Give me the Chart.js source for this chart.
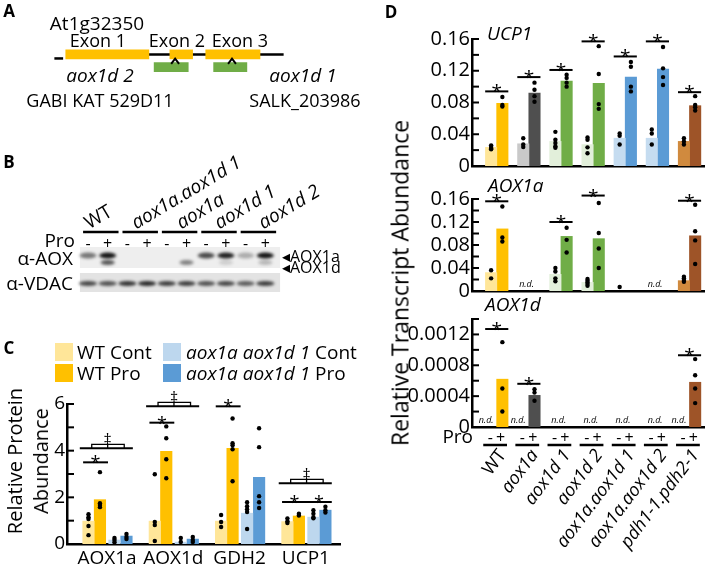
<!DOCTYPE html>
<html>
<head>
<meta charset="utf-8">
<script src="https://cdn.jsdelivr.net/npm/chart.js@4.4.0/dist/chart.umd.min.js"></script>
<style>
  body { margin: 0; width: 708px; height: 570px; overflow: hidden; position: relative; background: #fff; font-family: "Open Sans", sans-serif; }
  canvas { position: absolute; }
  .t { position: absolute; white-space: nowrap; color: #000; line-height: 1; }
  .sw { position: absolute; width: 18px; height: 18px; }
</style>
</head>
<body>
<canvas id="geneMap" width="380" height="120" style="left:0;top:0"></canvas>
<canvas id="blot" width="220" height="75" style="left:70px;top:225px"></canvas>
<canvas id="protein" width="345" height="190" style="left:0;top:380px"></canvas>
<canvas id="ucp1" width="328" height="180" style="left:380px;top:0"></canvas>
<canvas id="aox1a" width="328" height="125" style="left:380px;top:180px"></canvas>
<canvas id="aox1d" width="328" height="265" style="left:380px;top:305px"></canvas>
<script>
// ---- A: gene model (bp along At1g32350)
const geneExons = [[130, 1080], [1320, 1580], [1730, 2350]];
const geneUtr = [0, 100];
const geneEnd = 2620;
const tdnaBoxes = [[1140, 1530], [1820, 2200]];
const tdnaSites = [1380, 2030];

// ---- B: western blot, band intensity per lane (WT -,+, aox1a.aox1d1 -,+, aox1a -,+, aox1d1 -,+, aox1d2 -,+)
const blotGroups = ['WT', 'aox1a.aox1d 1', 'aox1a', 'aox1d 1', 'aox1d 2'];
const bandAOX1a = [0.55, 1.0, 0, 0, 0, 0, 0.75, 0.95, 0.3, 1.0];
const bandAOX1d = [0, 0.7, 0, 0, 0, 0.5, 0, 0.15, 0, 0.25];
const bandVDAC = [0.75, 0.7, 0.85, 0.9, 0.8, 0.8, 0.7, 0.75, 0.65, 0.8];

// ---- C: relative protein abundance
const cTargets = ['AOX1a', 'AOX1d', 'GDH2', 'UCP1'];
const wtCont = [0.98, 0.98, 0.98, 0.96];
const wtPro = [1.9, 3.97, 4.1, 1.2];
const dkoCont = [0.17, 0.08, 1.32, 1.15];
const dkoPro = [0.34, 0.21, 2.86, 1.45];
const wtContPts = [[1.28, 1.15, 1.07, 0.77, 0.38], [2.99, 0.94, 0.81, 0.13], [1.24, 0.94, 0.73], [1.1, 0.98, 0.9]];
const wtProPts = [[3.08, 1.75, 1.67, 1.58], [5.04, 4.53, 3.63, 2.82], [5.38, 4.32, 4.23, 4.06, 2.69], [1.3, 1.22]];
const dkoContPts = [[0.26, 0.17, 0.08], [0.26, 0.09], [1.79, 1.62, 1.49, 1.37, 0.64], [1.45, 1.3, 1.15, 1.1]];
const dkoProPts = [[0.43, 0.3, 0.21], [0.3, 0.17, 0.09], [4.96, 4.15, 2.05, 1.79, 1.54], [1.6, 1.45, 1.35]];
const cStarWT = [3.5, 5.2, 5.9, 1.8];
const cStarDko = [null, null, null, 1.8];
const cDagger = [4.1, 5.9, null, 2.6];

// ---- D: relative transcript abundance
const dGroups = ['WT', 'aox1a', 'aox1d 1', 'aox1d 2', 'aox1a.aox1d 1', 'aox1a.aox1d 2', 'pdh1-1.pdh2-1'];
const dContColors = ['#ffe699', '#c9c9c9', '#e2efda', '#e2efda', '#c5dcf0', '#c5dcf0', '#d08a3e'];
const dProColors = ['#ffc000', '#4f4f4f', '#70ad47', '#70ad47', '#5b9bd5', '#5b9bd5', '#9e5428'];

const ucp1Cont = [0.0235, 0.028, 0.031, 0.027, 0.035, 0.035, 0.031];
const ucp1Pro = [0.079, 0.092, 0.107, 0.104, 0.112, 0.122, 0.076];
const ucp1ContPts = [[0.026, 0.024, 0.022, 0.021], [0.035, 0.027, 0.024], [0.043, 0.033, 0.029, 0.025, 0.023], [0.036, 0.033, 0.0235, 0.016], [0.041, 0.038, 0.027], [0.046, 0.041, 0.027], [0.035, 0.031, 0.027]];
const ucp1ProPts = [[0.087, 0.077, 0.075], [0.105, 0.096, 0.088, 0.081], [0.115, 0.111, 0.105, 0.1], [0.151, 0.116, 0.078, 0.072], [0.131, 0.125, 0.1, 0.094], [0.15, 0.123, 0.112, 0.102], [0.088, 0.077, 0.074, 0.07]];
const ucp1Sig = [0.094, 0.112, 0.121, 0.157, 0.138, 0.157, 0.093];

const aox1aCont = [0.032, null, 0.029, 0.015, null, null, 0.018];
const aox1aPro = [0.108, null, 0.095, 0.091, null, null, 0.096];
const aox1aContPts = [[0.036, 0.022], [], [0.04, 0.034, 0.022, 0.017], [0.021, 0.018, 0.015, 0.012, 0.009], [0.007], [], [0.025, 0.022, 0.019, 0.016]];
const aox1aProPts = [[0.147, 0.093, 0.086], [], [0.11, 0.089, 0.067], [0.153, 0.101, 0.074, 0.04], [], [], [0.15, 0.104, 0.088, 0.047]];
const aox1aSig = [0.156, null, 0.12, 0.166, null, null, 0.157];
const aox1aND = [null, 'both', null, null, null, 'both', null];

const aox1dCont = [null, null, null, null, null, null, null];
const aox1dPro = [0.00062, 0.00041, null, null, null, null, 0.00058];
const aox1dContPts = [[], [], [], [], [], [], []];
const aox1dProPts = [[0.0011, 0.0005, 0.0002], [0.00049, 0.000446, 0.00034], [], [], [], [], [0.00088, 0.00067, 0.0005, 0.00031]];
const aox1dSig = [0.00127, 0.00056, null, null, null, null, 0.00093];
const aox1dND = ['cont', 'cont', 'both', 'both', 'both', 'both', 'cont'];

Chart.defaults.font.family = "'Open Sans', sans-serif";
Chart.defaults.color = '#000';

const base = {
  responsive: false, animation: false, events: [],
  plugins: { legend: { display: false }, tooltip: { enabled: false } }
};

// small inward ticks on the y axis, like the original figure
const innerTicks = {
  id: 'innerTicks',
  afterDraw(chart) {
    const { ctx, chartArea: a, scales: { y } } = chart;
    ctx.save();
    ctx.strokeStyle = '#000';
    ctx.lineWidth = 2;
    y.ticks.forEach(t => {
      const py = y.getPixelForValue(t.value);
      ctx.beginPath(); ctx.moveTo(a.left, py); ctx.lineTo(a.left + 7, py); ctx.stroke();
    });
    ctx.restore();
  }
};

function star(ctx, x1, x2, py, size) {
  ctx.strokeStyle = '#000'; ctx.lineWidth = 2;
  ctx.beginPath(); ctx.moveTo(x1, py); ctx.lineTo(x2, py); ctx.stroke();
  ctx.fillStyle = '#000'; ctx.font = size + 'px "Open Sans"';
  ctx.textAlign = 'center'; ctx.textBaseline = 'alphabetic';
  ctx.fillText('*', (x1 + x2) / 2, py + 7);
}

// ---------- A ----------
new Chart(document.getElementById('geneMap'), {
  type: 'bar',
  data: {
    datasets: [
      { type: 'bar', indexAxis: 'y', data: geneExons.map(e => ({ y: 0, x: e })), backgroundColor: '#ffc000', barThickness: 9, grouped: false, order: 1 },
      { type: 'bar', indexAxis: 'y', data: tdnaBoxes.map(e => ({ y: -1, x: e })), backgroundColor: '#70ad47', barThickness: 9, grouped: false, order: 1 },
      { type: 'line', data: [{ x: geneExons[0][1], y: 0 }, { x: geneEnd, y: 0 }], borderColor: '#000', borderWidth: 2.5, pointRadius: 0, order: 2 },
      { type: 'line', data: [{ x: geneUtr[0], y: -0.32 }, { x: geneUtr[1], y: -0.32 }], borderColor: '#000', borderWidth: 2.5, pointRadius: 0, order: 2 },
      ...tdnaSites.map(s => ({ type: 'line', data: [{ x: s - 45, y: -0.74 }, { x: s, y: -0.34 }, { x: s + 45, y: -0.74 }], borderColor: '#000', borderWidth: 2, pointRadius: 0, order: 0 }))
    ]
  },
  options: {
    ...base,
    layout: { padding: 0 },
    scales: {
      x: { type: 'linear', min: -350, max: 3450, display: false },
      y: { type: 'linear', min: -3.97, max: 3.088, display: false }
    }
  }
});

// ---------- B ----------
const blotPlugin = {
  id: 'blot',
  beforeDatasetsDraw(chart) {
    const { ctx, scales: { x, y } } = chart;
    const px = v => x.getPixelForValue(v), py = v => y.getPixelForValue(v);
    ctx.save();
    ctx.fillStyle = '#eeeeee';
    ctx.fillRect(px(-0.41), py(1.21), px(9.75) - px(-0.41), py(-1.79) - py(1.21));
    ctx.fillStyle = '#e3e3e3';
    ctx.fillRect(px(-0.41), py(-2.5), px(9.75) - px(-0.41), py(-5.21) - py(-2.5));
    const band = (lane, row, a, rx, ry) => {
      if (!a) return;
      ctx.fillStyle = 'rgba(20,20,20,' + a + ')';
      ctx.beginPath(); ctx.ellipse(px(lane), py(row), rx, ry, 0, 0, Math.PI * 2); ctx.fill();
    };
    ctx.filter = 'blur(1.5px)';
    bandAOX1a.forEach((a, i) => band(i, 0, a, 8.5, 3));
    bandAOX1d.forEach((a, i) => band(i, -1, a, 7, 2.5));
    bandVDAC.forEach((a, i) => band(i, -4, a, 9, 2.6));
    ctx.filter = 'none';
    ctx.strokeStyle = '#000'; ctx.lineWidth = 2.5;
    blotGroups.forEach((g, k) => {
      ctx.beginPath(); ctx.moveTo(px(2 * k - 0.25), py(3.36)); ctx.lineTo(px(2 * k + 1.55), py(3.36)); ctx.stroke();
    });
    ctx.restore();
  }
};
new Chart(document.getElementById('blot'), {
  type: 'scatter',
  data: { datasets: [{ data: bandVDAC.map((v, i) => ({ x: i, y: -4 })), pointRadius: 0 }] },
  options: {
    ...base,
    layout: { padding: 0 },
    scales: {
      x: { type: 'linear', min: -0.914, max: 10.254, display: false },
      y: { type: 'linear', min: -6.357, max: 4.357, display: false }
    }
  },
  plugins: [blotPlugin]
});

// ---------- C ----------
const cOff = [-0.279, -0.106, 0.113, 0.294];
const cColors = ['#ffe699', '#ffc000', '#bdd7ee', '#5b9bd5'];
const cBars = [wtCont, wtPro, dkoCont, dkoPro];
const cPts = [wtContPts, wtProPts, dkoContPts, dkoProPts];
const cMarks = {
  id: 'cMarks',
  afterDatasetsDraw(chart) {
    const { ctx, scales: { x, y } } = chart;
    const px = v => x.getPixelForValue(v);
    ctx.save();
    cStarWT.forEach((v, i) => { if (v != null) star(ctx, px(i - 0.36), px(i + 0.015), y.getPixelForValue(v), 18); });
    cStarDko.forEach((v, i) => { if (v != null) star(ctx, px(i), px(i + 0.39), y.getPixelForValue(v), 18); });
    cDagger.forEach((v, i) => {
      if (v == null) return;
      const p = y.getPixelForValue(v);
      ctx.strokeStyle = '#000'; ctx.lineWidth = 2;
      ctx.beginPath(); ctx.moveTo(px(i - 0.41), p); ctx.lineTo(px(i + 0.39), p); ctx.stroke();
      ctx.lineWidth = 1.3;
      ctx.beginPath();
      ctx.moveTo(px(i - 0.23), p); ctx.lineTo(px(i - 0.23), p - 4); ctx.lineTo(px(i + 0.26), p - 4); ctx.lineTo(px(i + 0.26), p);
      ctx.moveTo(px(i + 0.01), p - 4); ctx.lineTo(px(i + 0.01), p);
      ctx.stroke();
      ctx.fillStyle = '#000'; ctx.font = '16px "Open Sans"'; ctx.textAlign = 'center'; ctx.textBaseline = 'alphabetic';
      ctx.fillText('\u2021', px(i + 0.01), p - 3);
    });
    ctx.restore();
  }
};
new Chart(document.getElementById('protein'), {
  type: 'bar',
  data: {
    datasets: [
      { type: 'scatter', data: cPts.flatMap((set, k) => set.flatMap((vs, i) => vs.map(v => ({ x: i + cOff[k], y: v })))), pointRadius: 2.2, pointBackgroundColor: '#000', pointBorderWidth: 0, order: 1 },
      ...cBars.map((vals, k) => ({ type: 'bar', data: vals.map((v, i) => ({ x: i + cOff[k], y: v })), backgroundColor: cColors[k], barThickness: 11.5, grouped: false, order: 2 }))
    ]
  },
  options: {
    ...base,
    layout: { padding: { top: 24, right: 5, left: 0, bottom: 0 } },
    scales: {
      x: {
        type: 'linear', min: -0.603, max: 3.514, offset: false,
        afterFit: s => { s.height = 26; },
        grid: { display: false, drawTicks: false }, border: { color: '#000', width: 2.5 },
        ticks: { stepSize: 1, autoSkip: false, maxRotation: 0, includeBounds: false, padding: 3, font: { size: 19 }, callback: v => cTargets[v] || '' }
      },
      y: {
        min: 0, max: 6,
        afterFit: s => { s.width = 67; },
        grid: { display: false, drawTicks: false }, border: { color: '#000', width: 2.5 },
        ticks: { stepSize: 1, autoSkip: false, padding: 2, font: { size: 19 }, callback: v => (v % 2 === 0 ? String(v) : '') }
      }
    }
  },
  plugins: [innerTicks, cMarks]
});

// ---------- D ----------
function dDatasets(cont, pro, contPts, proPts) {
  const pts = (arr, off) => arr.flatMap((vs, i) => vs.map(v => ({ x: i + off, y: v })));
  return [
    { type: 'scatter', data: pts(contPts, -0.175).concat(pts(proPts, 0.175)), pointRadius: 2.2, pointBackgroundColor: '#000', pointBorderWidth: 0, order: 1 },
    { type: 'bar', data: cont.map((v, i) => ({ x: i - 0.175, y: v })), backgroundColor: dContColors, barThickness: 11.4, grouped: false, order: 2 },
    { type: 'bar', data: pro.map((v, i) => ({ x: i + 0.175, y: v })), backgroundColor: dProColors, barThickness: 11.4, grouped: false, order: 2 }
  ];
}

function dMarks(sig, nd, bottom) {
  return {
    id: 'dMarks',
    afterDatasetsDraw(chart) {
      const { ctx, chartArea: a, scales: { x, y } } = chart;
      const px = v => x.getPixelForValue(v);
      ctx.save();
      sig.forEach((v, i) => { if (v != null) star(ctx, px(i - 0.36), px(i + 0.36), y.getPixelForValue(v), 19); });
      ctx.fillStyle = '#000';
      ctx.font = 'italic 9px "Open Sans"'; ctx.textAlign = 'center'; ctx.textBaseline = 'bottom';
      (nd || []).forEach((k, i) => { if (k) ctx.fillText('n.d.', px(i + (k === 'cont' ? -0.33 : -0.07)), a.bottom - 2); });
      if (bottom) {
        const row = a.bottom + 11;
        ctx.font = '19px "Open Sans"'; ctx.textAlign = 'right'; ctx.textBaseline = 'middle';
        ctx.fillText('Pro', a.left + 1, row);
        dGroups.forEach((g, i) => {
          ctx.font = '16px "Open Sans"'; ctx.textAlign = 'center'; ctx.textBaseline = 'middle';
          ctx.fillText('-', px(i - 0.2), row);
          ctx.fillText('+', px(i + 0.12), row);
          ctx.strokeStyle = '#000'; ctx.lineWidth = 2.5;
          ctx.beginPath(); ctx.moveTo(px(i - 0.42), a.bottom + 18); ctx.lineTo(px(i + 0.32), a.bottom + 18); ctx.stroke();
          ctx.save();
          ctx.translate(px(i) + 6, a.bottom + 25);
          ctx.rotate(-53 * Math.PI / 180);
          ctx.font = (i === 0 ? '' : 'italic ') + '18px "Open Sans"';
          ctx.textAlign = 'right';
          ctx.fillText(g, 0, 0);
          ctx.restore();
        });
      }
      ctx.restore();
    }
  };
}

function dChart(id, datasets, o, marks) {
  const ratio = Math.round(o.labelStep / o.step);
  return new Chart(document.getElementById(id), {
    type: 'bar',
    data: { datasets },
    options: {
      ...base,
      layout: { padding: { top: o.padTop, left: 0, right: 0, bottom: 0 } },
      scales: {
        x: {
          type: 'linear', min: -0.77, max: 6.45, offset: false,
          afterFit: s => { s.height = o.xh; },
          ticks: { display: false }, grid: { display: false, drawTicks: false }, border: { color: '#000', width: 2.5 }
        },
        y: {
          min: 0, max: o.max,
          afterFit: s => { s.width = 92; },
          grid: { display: false, drawTicks: false }, border: { color: '#000', width: 2.5 },
          ticks: {
            stepSize: o.step, autoSkip: false, padding: 2, font: { size: 20 },
            callback: v => {
              const k = Math.round(v / o.step);
              if (k % ratio) return '';
              return k === 0 ? '0' : (k * o.step).toFixed(o.dec);
            }
          }
        }
      }
    },
    plugins: [innerTicks, marks]
  });
}

dChart('ucp1', dDatasets(ucp1Cont, ucp1Pro, ucp1ContPts, ucp1ProPts),
  { padTop: 39, xh: 7, max: 0.16, step: 0.02, labelStep: 0.04, dec: 2 }, dMarks(ucp1Sig, null, false));
dChart('aox1a', dDatasets(aox1aCont, aox1aPro, aox1aContPts, aox1aProPts),
  { padTop: 19, xh: 8, max: 0.16, step: 0.02, labelStep: 0.04, dec: 2 }, dMarks(aox1aSig, aox1aND, false));
dChart('aox1d', dDatasets(aox1dCont, aox1dPro, aox1dContPts, aox1dProPts),
  { padTop: 11, xh: 143, max: 0.0014, step: 0.0002, labelStep: 0.0004, dec: 4 }, dMarks(aox1dSig, aox1dND, true));

// ---------- text ----------
function put(html, x, y, size, o = {}) {
  const d = document.createElement('div');
  d.className = 't';
  d.innerHTML = html;
  d.style.left = x + 'px';
  d.style.top = y + 'px';
  d.style.fontSize = size + 'px';
  if (o.bold) d.style.fontWeight = '700';
  if (o.italic) d.style.fontStyle = 'italic';
  const ax = o.align === 'left' ? '0%' : o.align === 'right' ? '-100%' : '-50%';
  const ox = o.align === 'left' ? '0%' : o.align === 'right' ? '100%' : '50%';
  d.style.transformOrigin = ox + ' 50%';
  d.style.transform = 'translate(' + ax + ',-50%)' + (o.rot ? ' rotate(' + o.rot + 'deg)' : '');
  document.body.appendChild(d);
}
function swatch(color, x, y) {
  const d = document.createElement('div');
  d.className = 'sw';
  d.style.left = x + 'px'; d.style.top = y + 'px'; d.style.background = color;
  document.body.appendChild(d);
}

// panel letters
put('A', 9, 10, 17, { bold: true });
put('B', 9, 161, 17, { bold: true });
put('C', 9, 347, 17, { bold: true });
put('D', 391, 11, 17, { bold: true });

// A
put('At1g32350', 97, 23, 19);
put('Exon 1', 98, 40, 18);
put('Exon 2', 177, 40, 18);
put('Exon 3', 240, 40, 18);
put('aox1d 2', 100, 75, 19, { italic: true });
put('GABI KAT 529D11', 100, 100, 18);
put('aox1d 1', 303, 75, 19, { italic: true });
put('SALK_203986', 305, 100, 18);

// B
const blotLabelX = [86, 133, 178, 216, 260];
blotGroups.forEach((g, k) => put(g, blotLabelX[k], 224, 19, { align: 'left', rot: -31, italic: k > 0 }));
put('Pro', 75, 240, 19, { align: 'right' });
for (let i = 0; i < 10; i++) put(i % 2 ? '+' : '-', 88 + 19.7 * i, 243, 16);
put('\u03b1-AOX', 73, 258, 19, { align: 'right' });
put('\u03b1-VDAC', 73, 283, 19, { align: 'right' });
put('\u25c2AOX1a', 282, 256, 16, { align: 'left' });
put('\u25c2AOX1d', 282, 267, 16, { align: 'left' });

// C
swatch('#ffe699', 55, 343); swatch('#ffc000', 55, 364);
swatch('#bdd7ee', 163, 343); swatch('#5b9bd5', 163, 364);
put('WT Cont', 77, 352, 19, { align: 'left' });
put('WT Pro', 77, 373, 19, { align: 'left' });
put('<i>aox1a aox1d 1</i> Cont', 186, 352, 19, { align: 'left' });
put('<i>aox1a aox1d 1</i> Pro', 186, 373, 19, { align: 'left' });
put('Relative Protein', 15, 461, 20, { rot: -90 });
put('Abundance', 41, 461, 20, { rot: -90 });

// D
put('Relative Transcript Abundance', 400, 283, 23, { rot: -90 });
put('UCP1', 487, 33, 19, { align: 'left', italic: true });
put('AOX1a', 488, 185, 19, { align: 'left', italic: true });
put('AOX1d', 485, 304, 19, { align: 'left', italic: true });
</script>
</body>
</html>
